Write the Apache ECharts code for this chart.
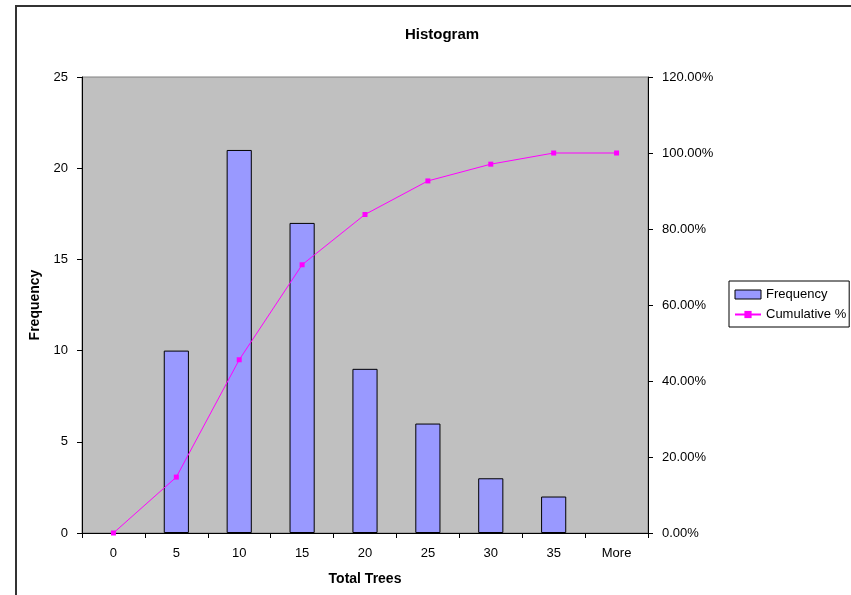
<!DOCTYPE html>
<html>
<head>
<meta charset="utf-8">
<script src="https://cdn.jsdelivr.net/npm/echarts@6/dist/echarts.min.js"></script>
<style>
html,body{margin:0;padding:0;background:#fff;}
#c{width:851px;height:595px;position:relative;}
#frame{position:absolute;left:15px;top:5px;width:900px;height:700px;border-left:2px solid #333;border-top:2px solid #333;pointer-events:none;}
</style>
</head>
<body>
<div id="c"></div>
<div id="frame"></div>
<script>
const categories = ['0','5','10','15','20','25','30','35','More'];
const frequency = [0,10,21,17,9,6,3,2,0];
const cumulativePct = [0,14.71,45.59,70.59,83.82,92.65,97.06,100,100];
const leftTicks = [0,5,10,15,20,25];
const rightTicks = [0,20,40,60,80,100,120];

const font = 'Liberation Sans, Arial, sans-serif';
const chart = echarts.init(document.getElementById('c'), null, {renderer:'canvas'});
chart.setOption({
  animation:false,
  backgroundColor:'#fff',
  title:{text:'Histogram',left:437,top:22,textAlign:'center',
    textStyle:{fontFamily:font,fontSize:15,fontWeight:'bold',color:'#000'}},
  legend:{
    orient:'vertical',left:729,top:281,
    backgroundColor:'#fff',borderColor:'#000',borderWidth:1,
    padding:[7,3,6,5],itemGap:7,itemWidth:26,itemHeight:9,
    textStyle:{fontFamily:font,fontSize:13,color:'#000'},
    data:[
      {name:'Frequency',icon:'rect',itemStyle:{color:'#9999FF',borderColor:'#000',borderWidth:1}},
      {name:'Cumulative %'}
    ]
  },
  grid:{left:82,right:203,top:77,bottom:62,show:true,backgroundColor:'#C0C0C0',borderColor:'#808080',borderWidth:1},
  xAxis:{
    type:'category',data:categories,boundaryGap:true,
    name:'Total Trees',nameLocation:'middle',nameGap:39,
    nameTextStyle:{fontFamily:font,fontSize:14,fontWeight:'bold',color:'#000'},
    axisLine:{lineStyle:{color:'#000',width:1}},
    axisTick:{show:true,inside:false,length:5,alignWithLabel:false,lineStyle:{color:'#000'}},
    axisLabel:{fontFamily:font,fontSize:13,color:'#000',margin:14},
    splitLine:{show:false}
  },
  yAxis:[
    {type:'value',min:0,max:25,interval:5,position:'left',
     name:'Frequency',nameLocation:'middle',nameGap:33,nameRotate:90,
     nameTextStyle:{fontFamily:font,fontSize:14,fontWeight:'bold',color:'#000'},
     axisLine:{show:true,lineStyle:{color:'#000'}},
     axisTick:{show:true,inside:false,length:5,lineStyle:{color:'#000'}},
     axisLabel:{fontFamily:font,fontSize:13,color:'#000',margin:14},
     splitLine:{show:false}},
    {type:'value',min:0,max:120,interval:20,position:'right',
     axisLine:{show:true,lineStyle:{color:'#000'}},
     axisTick:{show:true,inside:false,length:5,lineStyle:{color:'#000'}},
     axisLabel:{fontFamily:font,fontSize:13,color:'#000',margin:14,
       formatter:v=>v.toFixed(2)+'%'},
     splitLine:{show:false}}
  ],
  series:[
    {name:'Frequency',type:'bar',data:frequency.map(v=>v===0?null:v),yAxisIndex:0,barWidth:'40%',
     itemStyle:{color:'#9999FF',borderColor:'#000',borderWidth:1}},
    {name:'Cumulative %',type:'line',data:cumulativePct,yAxisIndex:1,
     symbol:'rect',symbolSize:5,showSymbol:true,
     lineStyle:{color:'#FF00FF',width:1},
     itemStyle:{color:'#FF00FF'}}
  ]
});
</script>
</body>
</html>
